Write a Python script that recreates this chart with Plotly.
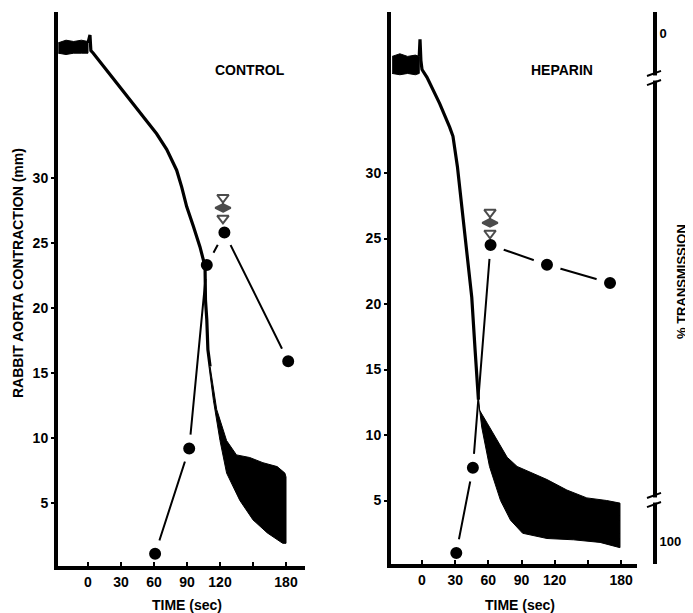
import plotly.graph_objects as go

# ---------------- data ----------------
# CONTROL panel: contraction trace (mm) vs time (s)
ctrl_plateau_t = [-27, -20, -13, -6, 0]
ctrl_plateau_hi = [40.4, 40.6, 40.5, 40.6, 40.5]
ctrl_plateau_lo = [39.6, 39.5, 39.6, 39.6, 39.6]
ctrl_line_t = [0, 1.8, 2.6, 4.8, 15, 26.1, 38, 50.3, 62.4, 71.5, 80.6, 85.2, 89.7, 95.7, 101.8, 106.4, 106.8, 108, 109, 111]
ctrl_line_mm = [40.4, 41.0, 39.8, 39.6, 38.5, 37.3, 36.1, 34.7, 33.4, 32.2, 30.6, 29.3, 27.8, 26.3, 24.7, 23.2, 20.6, 19.1, 16.8, 15.5]
ctrl_band_t = [111, 117, 126, 135, 147, 159, 172, 179, 180]
ctrl_band_hi = [15.5, 12.2, 9.8, 8.7, 8.5, 8.1, 7.8, 7.3, 7.0]
ctrl_band_lo_t = [110, 114, 120, 126, 138, 150, 163, 177, 180]
ctrl_band_lo = [15.5, 12.9, 9.8, 7.3, 5.2, 3.7, 2.7, 1.9, 1.9]
# CONTROL panel: aggregation points
ctrl_pts_t = [61, 92, 108, 124, 182]
ctrl_pts_v = [1.1, 9.2, 23.3, 25.8, 15.9]
ctrl_arrow_t = [122.7, 122.7, 122.7]
ctrl_arrow_v = [28.5, 27.7, 26.9]

# HEPARIN panel
hep_plateau_t = [-27, -20, -13, -6, -2.5]
hep_plateau_hi = [38.9, 39.1, 38.9, 39.0, 38.9]
hep_plateau_lo = [37.6, 37.5, 37.6, 37.5, 37.6]
hep_line_t = [-2.5, -1.8, -1.0, 0, 4.5, 16, 25, 28, 32, 39, 45, 48, 51]
hep_line_mm = [38.9, 40.2, 38.6, 37.9, 37.3, 35.3, 33.5, 32.8, 30.5, 25.4, 20.5, 16.5, 12.7]
hep_band_t = [51, 52, 59, 68, 77, 86, 100, 113, 131, 149, 167, 179]
hep_band_hi = [12.7, 11.9, 10.9, 9.6, 8.3, 7.6, 7.1, 6.6, 5.8, 5.2, 5.0, 4.8]
hep_band_lo_t = [51, 54, 61, 71, 80, 91, 113, 137, 161, 179]
hep_band_lo = [12.7, 10.6, 7.6, 5.0, 3.5, 2.5, 2.1, 2.0, 1.8, 1.4]
hep_pts_t = [31, 46, 62, 113, 170]
hep_pts_v = [1.0, 7.5, 24.5, 23.0, 21.6]
hep_arrow_t = [61.5, 61.5, 61.5]
hep_arrow_v = [27.0, 26.2, 25.4]

time_ticks = [0, 30, 60, 90, 120, 150, 180]
time_labels = ["0", "30", "60", "90", "120", "", "180"]
mm_ticks = [5, 10, 15, 20, 25, 30]
trans_ticks = [0, 100]
trans_labels = ["0", "100"]

# ---------------- figure geometry ----------------
# page body has an 8px margin, so the figure is laid out in page px minus 8
OFF = 8
W, H = 693 - OFF, 613 - OFF
FONT = "Liberation Sans"
BLACK = "#000000"


def fx(px):
    return (px - OFF) / W


def fy(py):
    return 1 - (py - OFF) / H


fig = go.Figure()


def add_panel(xa, ya, pl_t, pl_hi, pl_lo, ln_t, ln_v, bd_t, bd_hi, bd_lo_t, bd_lo,
              pts_t, pts_v, ar_t, ar_v):
    # aggregation points with connecting line (white ring makes gaps)
    fig.add_trace(go.Scatter(
        x=pts_t, y=pts_v, xaxis=xa, yaxis=ya, mode="lines+markers",
        line=dict(color=BLACK, width=2),
        marker=dict(size=20, color=BLACK, line=dict(color="white", width=8)),
        hoverinfo="skip"))
    # plateau band
    fig.add_trace(go.Scatter(
        x=pl_t + pl_t[::-1], y=pl_hi + pl_lo[::-1], xaxis=xa, yaxis=ya,
        mode="lines", fill="toself", fillcolor=BLACK,
        line=dict(color=BLACK, width=1), hoverinfo="skip"))
    # decline line
    fig.add_trace(go.Scatter(
        x=ln_t, y=ln_v, xaxis=xa, yaxis=ya, mode="lines",
        line=dict(color=BLACK, width=3.2), hoverinfo="skip"))
    # oscillation band
    fig.add_trace(go.Scatter(
        x=bd_t + bd_lo_t[::-1], y=bd_hi + bd_lo[::-1], xaxis=xa, yaxis=ya,
        mode="lines", fill="toself", fillcolor=BLACK,
        line=dict(color=BLACK, width=1), hoverinfo="skip"))
    # arrow symbols (open, filled, open)
    fig.add_trace(go.Scatter(
        x=ar_t, y=ar_v, xaxis=xa, yaxis=ya, mode="markers",
        marker=dict(symbol=["triangle-down", "diamond-wide", "triangle-down"],
                    size=[10, 11, 10], color=["white", BLACK, "white"],
                    line=dict(color=BLACK, width=2)),
        hoverinfo="skip"))


add_panel("x", "y", ctrl_plateau_t, ctrl_plateau_hi, ctrl_plateau_lo,
          ctrl_line_t, ctrl_line_mm, ctrl_band_t, ctrl_band_hi, ctrl_band_lo_t, ctrl_band_lo,
          ctrl_pts_t, ctrl_pts_v, ctrl_arrow_t, ctrl_arrow_v)
add_panel("x2", "y2", hep_plateau_t, hep_plateau_hi, hep_plateau_lo,
          hep_line_t, hep_line_mm, hep_band_t, hep_band_hi, hep_band_lo_t, hep_band_lo,
          hep_pts_t, hep_pts_v, hep_arrow_t, hep_arrow_v)

# invisible trace to carry the % transmission axis
fig.add_trace(go.Scatter(x=[0], y=[50], xaxis="x2", yaxis="y3", mode="markers",
                         marker=dict(opacity=0), hoverinfo="skip"))

tickfont = dict(family=FONT, size=14, color=BLACK, weight="bold")

xcommon = dict(tickvals=time_ticks, ticktext=time_labels, ticks="inside", ticklen=4,
               tickwidth=2, tickcolor=BLACK, showline=True, linewidth=4, linecolor=BLACK,
               showgrid=False, zeroline=False, tickfont=tickfont, fixedrange=True,
               automargin=False)
ycommon = dict(tickvals=mm_ticks, ticks="outside", ticklen=3, tickwidth=2,
               tickcolor=BLACK, showline=True, linewidth=4, linecolor=BLACK,
               showgrid=False, zeroline=False, tickfont=tickfont, fixedrange=True,
               automargin=False)

# panel 1: t=0 at page px 88, 1.1 px/s ; mm=0 at page py 568, 13 px/mm
# panel 2: t=0 at page px 422, 1.106 px/s ; mm=0 at page py 566, 13.1 px/mm
fig.update_layout(
    width=W, height=H, margin=dict(l=0, r=0, t=0, b=0, autoexpand=False),
    paper_bgcolor="white", plot_bgcolor="white", showlegend=False,
    xaxis=dict(domain=[fx(58), fx(305)], range=[(58 - 88) / 1.1, (305 - 88) / 1.1],
               anchor="y", **xcommon),
    yaxis=dict(domain=[fy(566), fy(12)], range=[(568 - 566) / 13, (568 - 12) / 13],
               anchor="x", **ycommon),
    xaxis2=dict(domain=[fx(391), fx(637)], range=[(391 - 422) / 1.106, (637 - 422) / 1.106],
                anchor="y2", **xcommon),
    yaxis2=dict(domain=[fy(564), fy(12)], range=[(566 - 564) / 13.1, (566 - 12) / 13.1],
                anchor="x2", **ycommon),
    yaxis3=dict(overlaying="y2", anchor="free", position=fx(655), side="right",
                range=[(564 - 33) / 5.08, (12 - 33) / 5.08],
                tickvals=trans_ticks, ticktext=trans_labels,
                ticks="", showline=True, linewidth=4, linecolor=BLACK,
                showgrid=False, zeroline=False, fixedrange=True, automargin=False,
                ticklabelstandoff=0,
                tickfont=dict(family=FONT, size=13, color=BLACK, weight="bold")),
)

# axis breaks on the % transmission axis
shapes = []
for v in [(78 - 33) / 5.08, (500 - 33) / 5.08]:
    shapes.append(dict(type="rect", xref="paper", yref="y3", x0=fx(649), x1=fx(660),
                       y0=v - 0.5, y1=v + 0.5, fillcolor="white", line=dict(width=0)))
    for dv in [-0.9, 0.9]:
        shapes.append(dict(type="line", xref="paper", yref="y3", x0=fx(647), x1=fx(661),
                           y0=v + dv + 0.5, y1=v + dv - 0.5,
                           line=dict(color=BLACK, width=2)))
fig.update_layout(shapes=shapes)

lab = dict(family=FONT, size=14, color=BLACK, weight="bold")
c = dict(showarrow=False, xanchor="center", yanchor="middle")
ann = [
    dict(text="CONTROL", x=147, y=38.3, xref="x", yref="y", font=lab, **c),
    dict(text="HEPARIN", x=126.6, y=37.9, xref="x2", yref="y2", font=lab, **c),
    dict(text="TIME (sec)", x=90, y=fy(605), xref="x", yref="paper", font=lab, **c),
    dict(text="TIME (sec)", x=88.6, y=fy(605), xref="x2", yref="paper", font=lab, **c),
    dict(text="RABBIT AORTA CONTRACTION (mm)", x=fx(18), y=fy(273), xref="paper",
         yref="paper", textangle=-90,
         font=dict(family=FONT, size=14, color=BLACK, weight="bold"), **c),
    dict(text="% TRANSMISSION", x=fx(681), y=fy(282), xref="paper", yref="paper",
         textangle=-90, font=dict(family=FONT, size=13, color=BLACK, weight="bold"), **c),
]
fig.update_layout(annotations=ann)

fig.write_html("out.html")
